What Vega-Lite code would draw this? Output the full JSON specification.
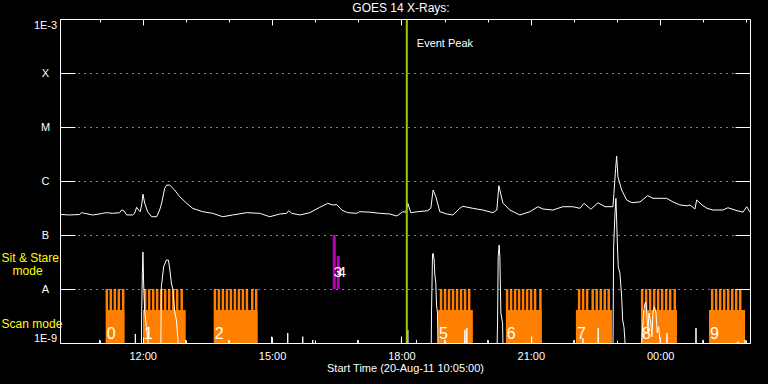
{
  "$schema": "https://vega.github.io/schema/vega-lite/v6.json",
  "width": 690,
  "height": 324,
  "autosize": "none",
  "padding": {"left": 60, "top": 19, "right": 18, "bottom": 41},
  "background": "black",
  "title": {"text": "GOES 14 X-Rays:", "fontSize": 12, "font": "Liberation Sans", "fontWeight": "normal", "color": "white", "offset": 3, "dx": -4, "frame": "group"},
  "datasets": {
    "scan": [
      {"seg": "0", "start": 11.142, "end": 11.582, "lo": 1e-9, "hi": 4.08e-9},
      {"seg": "1", "start": 12.007, "end": 12.998, "lo": 1e-9, "hi": 4.08e-9},
      {"seg": "2", "start": 13.647, "end": 14.668, "lo": 1e-9, "hi": 4.08e-9},
      {"seg": "5", "start": 18.851, "end": 19.657, "lo": 1e-9, "hi": 4.08e-9},
      {"seg": "6", "start": 20.422, "end": 21.258, "lo": 1e-9, "hi": 4.08e-9},
      {"seg": "7", "start": 22.046, "end": 22.882, "lo": 1e-9, "hi": 4.08e-9},
      {"seg": "8", "start": 23.555, "end": 24.39, "lo": 1e-9, "hi": 4.08e-9},
      {"seg": "9", "start": 25.132, "end": 25.968, "lo": 1e-9, "hi": 4.08e-9}
    ],
    "stripes": [
      {"h": 11.169}, {"h": 11.262}, {"h": 11.355}, {"h": 11.448}, {"h": 11.548},
      {"h": 12.058}, {"h": 12.151}, {"h": 12.244}, {"h": 12.336}, {"h": 12.429}, {"h": 12.522}, {"h": 12.615}, {"h": 12.708}, {"h": 12.8}, {"h": 12.905},
      {"h": 13.675}, {"h": 13.768}, {"h": 13.861}, {"h": 13.954}, {"h": 14.046}, {"h": 14.139}, {"h": 14.232}, {"h": 14.325}, {"h": 14.418}, {"h": 14.541}, {"h": 14.633},
      {"h": 18.919}, {"h": 19.012}, {"h": 19.104}, {"h": 19.197}, {"h": 19.29}, {"h": 19.383}, {"h": 19.476}, {"h": 19.571},
      {"h": 20.45}, {"h": 20.543}, {"h": 20.636}, {"h": 20.729}, {"h": 20.821}, {"h": 20.914}, {"h": 21.007}, {"h": 21.1}, {"h": 21.223},
      {"h": 22.121}, {"h": 22.213}, {"h": 22.306}, {"h": 22.436}, {"h": 22.529}, {"h": 22.622}, {"h": 22.715}, {"h": 22.807},
      {"h": 23.582}, {"h": 23.675}, {"h": 23.768}, {"h": 23.861}, {"h": 23.954}, {"h": 24.046}, {"h": 24.139}, {"h": 24.232}, {"h": 24.339},
      {"h": 25.206}, {"h": 25.299}, {"h": 25.392}, {"h": 25.485}, {"h": 25.578}, {"h": 25.671}, {"h": 25.763}, {"h": 25.856}
    ],
    "sitstare": [
      {"seg": "3", "start": 16.408, "end": 16.478, "lo": 1e-8, "hi": 1e-7},
      {"seg": "4", "start": 16.501, "end": 16.571, "lo": 1e-8, "hi": 4.08e-8}
    ],
    "long": [
      {"h": 10.083, "v": 2.40e-7}, {"h": 10.306, "v": 2.35e-7}, {"h": 10.538, "v": 2.40e-7}, {"h": 10.585, "v": 2.59e-7}, {"h": 10.654, "v": 2.52e-7}, {"h": 10.84, "v": 2.35e-7}, {"h": 11.002, "v": 2.45e-7}, {"h": 11.072, "v": 2.52e-7}, {"h": 11.165, "v": 2.59e-7}, {"h": 11.304, "v": 2.52e-7}, {"h": 11.466, "v": 2.59e-7}, {"h": 11.513, "v": 2.90e-7}, {"h": 11.559, "v": 2.85e-7}, {"h": 11.629, "v": 2.35e-7}, {"h": 11.768, "v": 2.35e-7}, {"h": 11.814, "v": 2.52e-7}, {"h": 11.861, "v": 3.26e-7}, {"h": 11.907, "v": 2.90e-7}, {"h": 11.942, "v": 2.70e-7}, {"h": 11.977, "v": 3.60e-7}, {"h": 12.007, "v": 5.70e-7}, {"h": 12.046, "v": 3.90e-7}, {"h": 12.116, "v": 2.70e-7}, {"h": 12.209, "v": 2.18e-7}, {"h": 12.325, "v": 2.18e-7}, {"h": 12.394, "v": 2.90e-7}, {"h": 12.441, "v": 3.90e-7}, {"h": 12.51, "v": 7.30e-7}, {"h": 12.557, "v": 8.40e-7}, {"h": 12.626, "v": 8.40e-7}, {"h": 12.742, "v": 6.80e-7}, {"h": 12.858, "v": 5.12e-7}, {"h": 13.021, "v": 3.86e-7}, {"h": 13.16, "v": 3.12e-7}, {"h": 13.392, "v": 2.70e-7}, {"h": 13.624, "v": 2.52e-7}, {"h": 13.856, "v": 2.18e-7}, {"h": 14.088, "v": 2.35e-7}, {"h": 14.413, "v": 2.59e-7}, {"h": 14.715, "v": 2.52e-7}, {"h": 14.947, "v": 2.18e-7}, {"h": 15.179, "v": 2.45e-7}, {"h": 15.341, "v": 2.52e-7}, {"h": 15.387, "v": 2.82e-7}, {"h": 15.457, "v": 2.52e-7}, {"h": 15.643, "v": 2.35e-7}, {"h": 15.875, "v": 2.59e-7}, {"h": 16.107, "v": 3.26e-7}, {"h": 16.292, "v": 3.86e-7}, {"h": 16.408, "v": 3.60e-7}, {"h": 16.501, "v": 3.65e-7}, {"h": 16.617, "v": 2.90e-7}, {"h": 16.756, "v": 2.59e-7}, {"h": 16.965, "v": 2.52e-7}, {"h": 17.035, "v": 2.70e-7}, {"h": 17.267, "v": 2.65e-7}, {"h": 17.499, "v": 2.52e-7}, {"h": 17.731, "v": 2.45e-7}, {"h": 17.893, "v": 2.25e-7}, {"h": 18.032, "v": 2.70e-7}, {"h": 18.102, "v": 2.65e-7}, {"h": 18.148, "v": 3.86e-7}, {"h": 18.218, "v": 2.59e-7}, {"h": 18.381, "v": 2.70e-7}, {"h": 18.613, "v": 2.82e-7}, {"h": 18.682, "v": 3.12e-7}, {"h": 18.735, "v": 6.80e-7}, {"h": 18.798, "v": 5.12e-7}, {"h": 18.891, "v": 2.70e-7}, {"h": 19.053, "v": 2.45e-7}, {"h": 19.193, "v": 2.35e-7}, {"h": 19.355, "v": 3.12e-7}, {"h": 19.425, "v": 3.40e-7}, {"h": 19.657, "v": 3.12e-7}, {"h": 19.889, "v": 2.90e-7}, {"h": 20.121, "v": 2.59e-7}, {"h": 20.213, "v": 2.90e-7}, {"h": 20.26, "v": 8.20e-7}, {"h": 20.353, "v": 3.90e-7}, {"h": 20.515, "v": 2.90e-7}, {"h": 20.747, "v": 2.35e-7}, {"h": 20.979, "v": 2.70e-7}, {"h": 21.165, "v": 3.34e-7}, {"h": 21.281, "v": 3.03e-7}, {"h": 21.513, "v": 2.90e-7}, {"h": 21.745, "v": 3.34e-7}, {"h": 21.977, "v": 3.34e-7}, {"h": 22.14, "v": 3.12e-7}, {"h": 22.233, "v": 3.86e-7}, {"h": 22.394, "v": 3.00e-7}, {"h": 22.557, "v": 3.96e-7}, {"h": 22.719, "v": 3.34e-7}, {"h": 22.905, "v": 3.34e-7}, {"h": 22.928, "v": 5.90e-7}, {"h": 22.968, "v": 1.72e-6}, {"h": 22.991, "v": 2.90e-6}, {"h": 23.021, "v": 1.20e-6}, {"h": 23.107, "v": 6.80e-7}, {"h": 23.223, "v": 4.45e-7}, {"h": 23.346, "v": 3.96e-7}, {"h": 23.531, "v": 4.10e-7}, {"h": 23.71, "v": 5.35e-7}, {"h": 23.833, "v": 4.78e-7}, {"h": 24.151, "v": 4.78e-7}, {"h": 24.297, "v": 4.10e-7}, {"h": 24.459, "v": 3.60e-7}, {"h": 24.622, "v": 3.47e-7}, {"h": 24.691, "v": 3.60e-7}, {"h": 24.807, "v": 3.03e-7}, {"h": 24.847, "v": 4.45e-7}, {"h": 24.97, "v": 3.60e-7}, {"h": 25.086, "v": 3.12e-7}, {"h": 25.225, "v": 2.90e-7}, {"h": 25.457, "v": 2.90e-7}, {"h": 25.573, "v": 3.20e-7}, {"h": 25.782, "v": 2.82e-7}, {"h": 25.921, "v": 2.65e-7}, {"h": 26.007, "v": 3.34e-7}, {"h": 26.083, "v": 2.65e-7}
    ],
    "short": [
      {"h": 10.083, "v": 5e-10}, {"h": 10.988, "v": 5e-10}, {"h": 11.0, "v": 1.14e-9}, {"h": 11.012, "v": 5e-10},
      {"h": 11.819, "v": 5e-10}, {"h": 11.831, "v": 1.47e-9}, {"h": 11.843, "v": 5e-10},
      {"h": 11.97, "v": 5e-10}, {"h": 11.977, "v": 3.8e-9}, {"h": 11.993, "v": 1.95e-8}, {"h": 12.007, "v": 4.84e-8}, {"h": 12.023, "v": 1.25e-8}, {"h": 12.046, "v": 4.08e-9}, {"h": 12.086, "v": 1.96e-9}, {"h": 12.123, "v": 1.14e-9}, {"h": 12.139, "v": 5e-10},
      {"h": 12.418, "v": 5e-10}, {"h": 12.434, "v": 1.10e-8}, {"h": 12.487, "v": 2.59e-8}, {"h": 12.55, "v": 3.44e-8}, {"h": 12.596, "v": 3.44e-8}, {"h": 12.626, "v": 2.45e-8}, {"h": 12.666, "v": 1.29e-8}, {"h": 12.703, "v": 9.6e-9}, {"h": 12.742, "v": 3.8e-9}, {"h": 12.782, "v": 2.67e-9}, {"h": 12.819, "v": 1.14e-9}, {"h": 12.835, "v": 5e-10},
      {"h": 12.986, "v": 5e-10}, {"h": 12.998, "v": 1.14e-9}, {"h": 13.01, "v": 5e-10},
      {"h": 13.983, "v": 5e-10}, {"h": 13.995, "v": 1.14e-9}, {"h": 14.007, "v": 5e-10},
      {"h": 14.981, "v": 5e-10}, {"h": 14.993, "v": 1.31e-9}, {"h": 15.005, "v": 5e-10},
      {"h": 15.352, "v": 5e-10}, {"h": 15.364, "v": 1.53e-9}, {"h": 15.376, "v": 5e-10},
      {"h": 15.7, "v": 5e-10}, {"h": 15.712, "v": 1.31e-9}, {"h": 15.724, "v": 5e-10},
      {"h": 15.932, "v": 5e-10}, {"h": 15.944, "v": 1.14e-9}, {"h": 15.956, "v": 5e-10},
      {"h": 16.976, "v": 5e-10}, {"h": 16.988, "v": 1.14e-9}, {"h": 17.0, "v": 5e-10},
      {"h": 17.99, "v": 5e-10}, {"h": 18.002, "v": 1.31e-9}, {"h": 18.014, "v": 5e-10},
      {"h": 18.136, "v": 5e-10}, {"h": 18.148, "v": 1.74e-9}, {"h": 18.16, "v": 5e-10},
      {"h": 18.338, "v": 5e-10}, {"h": 18.35, "v": 1.14e-9}, {"h": 18.362, "v": 5e-10},
      {"h": 18.689, "v": 5e-10}, {"h": 18.698, "v": 3.6e-9}, {"h": 18.721, "v": 4.26e-8}, {"h": 18.735, "v": 4.58e-8}, {"h": 18.759, "v": 3.44e-8}, {"h": 18.775, "v": 1.82e-8}, {"h": 18.798, "v": 1.29e-8}, {"h": 18.814, "v": 5.06e-9}, {"h": 18.837, "v": 3.6e-9}, {"h": 18.851, "v": 5e-10},
      {"h": 18.995, "v": 5e-10}, {"h": 19.007, "v": 1.14e-9}, {"h": 19.019, "v": 5e-10},
      {"h": 19.46, "v": 5e-10}, {"h": 19.471, "v": 1.74e-9}, {"h": 19.49, "v": 5e-10}, {"h": 19.505, "v": 5e-10}, {"h": 19.517, "v": 1.9e-9}, {"h": 19.53, "v": 5e-10},
      {"h": 19.993, "v": 5e-10}, {"h": 20.005, "v": 1.14e-9}, {"h": 20.017, "v": 5e-10},
      {"h": 20.213, "v": 5e-10}, {"h": 20.23, "v": 2.35e-9}, {"h": 20.244, "v": 3.96e-8}, {"h": 20.267, "v": 6.53e-8}, {"h": 20.283, "v": 3.96e-8}, {"h": 20.306, "v": 3.6e-9}, {"h": 20.346, "v": 2.35e-9}, {"h": 20.36, "v": 5e-10},
      {"h": 21.007, "v": 5e-10}, {"h": 21.019, "v": 1.31e-9}, {"h": 21.031, "v": 5e-10},
      {"h": 21.988, "v": 5e-10}, {"h": 22.0, "v": 1.14e-9}, {"h": 22.012, "v": 5e-10},
      {"h": 22.197, "v": 5e-10}, {"h": 22.209, "v": 1.22e-9}, {"h": 22.221, "v": 5e-10},
      {"h": 22.55, "v": 5e-10}, {"h": 22.564, "v": 1.9e-9}, {"h": 22.58, "v": 5e-10},
      {"h": 22.905, "v": 5e-10}, {"h": 22.921, "v": 6.07e-8}, {"h": 22.951, "v": 2.35e-7}, {"h": 22.974, "v": 4.78e-7}, {"h": 22.991, "v": 1.9e-7}, {"h": 23.005, "v": 8.07e-8}, {"h": 23.028, "v": 2.59e-8}, {"h": 23.067, "v": 1.95e-8}, {"h": 23.107, "v": 7.2e-9}, {"h": 23.13, "v": 2.67e-9}, {"h": 23.16, "v": 2.0e-9}, {"h": 23.183, "v": 1.14e-9}, {"h": 23.195, "v": 5e-10},
      {"h": 23.555, "v": 5e-10}, {"h": 23.594, "v": 2.0e-9}, {"h": 23.624, "v": 4.08e-9}, {"h": 23.647, "v": 5.43e-9}, {"h": 23.671, "v": 5.8e-9}, {"h": 23.694, "v": 3.07e-9}, {"h": 23.717, "v": 1.62e-9}, {"h": 23.74, "v": 3.6e-9}, {"h": 23.779, "v": 2.48e-9}, {"h": 23.81, "v": 1.31e-9}, {"h": 23.833, "v": 3.6e-9}, {"h": 23.863, "v": 4.7e-9}, {"h": 23.903, "v": 3.6e-9}, {"h": 23.933, "v": 1.53e-9}, {"h": 23.965, "v": 2.0e-9}, {"h": 23.995, "v": 1.14e-9}, {"h": 24.019, "v": 5e-10},
      {"h": 24.146, "v": 5e-10}, {"h": 24.158, "v": 1.53e-9}, {"h": 24.17, "v": 5e-10},
      {"h": 24.819, "v": 5e-10}, {"h": 24.831, "v": 1.9e-9}, {"h": 24.843, "v": 5e-10},
      {"h": 24.981, "v": 5e-10}, {"h": 24.993, "v": 1.14e-9}, {"h": 25.005, "v": 5e-10},
      {"h": 25.793, "v": 5e-10}, {"h": 25.805, "v": 1.07e-9}, {"h": 25.817, "v": 5e-10},
      {"h": 25.956, "v": 5e-10}, {"h": 25.968, "v": 1.14e-9}, {"h": 25.98, "v": 5e-10},
      {"h": 26.083, "v": 5e-10}
    ],
    "event": [{"h": 18.125, "label": "Event Peak"}],
    "modes": [
      {"text": "Sit & Stare", "h": 8.729, "v": 3.16e-8},
      {"text": "mode", "h": 8.984, "v": 1.82e-8},
      {"text": "Scan mode", "h": 8.729, "v": 1.9e-9}
    ]
  },
  "layer": [
    {
      "data": {"name": "scan"},
      "mark": {"type": "rect", "color": "#ff8000"},
      "encoding": {
        "x": {"field": "start", "type": "quantitative",
          "scale": {"domain": [10.0833, 26.0833], "nice": false, "zero": false},
          "axis": {"orient": "bottom", "values": [11, 12, 13, 14, 15, 16, 17, 18, 19, 20, 21, 22, 23, 24, 25, 26],
            "labelExpr": "datum.value % 3 == 0 ? (((datum.value % 24) < 10 ? '0' : '') + (datum.value % 24) + ':00') : ''",
            "tickSize": {"condition": {"test": "datum.value % 3 == 0", "value": -6}, "value": -3},
            "labelPadding": 13, "labelOverlap": false, "labelFlush": false, "grid": false,
            "title": "Start Time (20-Aug-11 10:05:00)", "titlePadding": -2, "zindex": 1}},
        "x2": {"field": "end"},
        "y": {"field": "lo", "type": "quantitative",
          "scale": {"type": "log", "domain": [1e-9, 1e-3], "nice": false},
          "axis": {"orient": "left", "values": [1e-9, 1e-8, 1e-7, 1e-6, 1e-5, 1e-4, 1e-3],
            "labelExpr": "['1E-9','A','B','C','M','X','1E-3'][round(log(datum.value)/LN10)+9]",
            "tickSize": -15, "labelPadding": 30, "labelAlign": "center", "labelFlush": true, "labelOverlap": false,
            "grid": true, "gridColor": "white", "gridDash": [1, 5], "gridWidth": 1, "title": null, "zindex": 1}},
        "y2": {"field": "hi"}
      }
    },
    {
      "data": {"name": "stripes"},
      "mark": {"type": "rule", "color": "#ff8000", "strokeWidth": 2.5},
      "encoding": {
        "x": {"field": "h", "type": "quantitative", "axis": null},
        "y": {"datum": 4.08e-9, "type": "quantitative", "axis": null},
        "y2": {"datum": 1e-8}
      }
    },
    {
      "data": {"name": "sitstare"},
      "mark": {"type": "rect", "color": "#bb00bb"},
      "encoding": {
        "x": {"field": "start", "type": "quantitative",
          "axis": {"orient": "top", "values": [11, 12, 13, 14, 15, 16, 17, 18, 19, 20, 21, 22, 23, 24, 25, 26], "labels": false,
            "tickSize": {"condition": {"test": "datum.value % 3 == 0", "value": -6}, "value": -3}, "grid": false, "title": null, "zindex": 1}},
        "x2": {"field": "end"},
        "y": {"field": "lo", "type": "quantitative",
          "axis": {"orient": "right", "values": [1e-9, 1e-8, 1e-7, 1e-6, 1e-5, 1e-4, 1e-3], "labels": false, "tickSize": -15, "grid": false, "title": null, "zindex": 1}},
        "y2": {"field": "hi"}
      }
    },
    {
      "data": {"name": "scan"},
      "mark": {"type": "text", "color": "white", "fontSize": 16, "align": "left", "baseline": "alphabetic", "dx": 1},
      "encoding": {
        "x": {"field": "start", "type": "quantitative", "axis": null},
        "y": {"datum": 1.186e-9, "type": "quantitative", "axis": null},
        "text": {"field": "seg"}
      }
    },
    {
      "data": {"name": "sitstare"},
      "mark": {"type": "text", "color": "white", "fontSize": 15, "align": "left", "baseline": "alphabetic", "dx": 1},
      "encoding": {
        "x": {"field": "start", "type": "quantitative", "axis": null},
        "y": {"datum": 1.67e-8, "type": "quantitative", "axis": null},
        "text": {"field": "seg"}
      }
    },
    {
      "data": {"name": "long"},
      "mark": {"type": "line", "color": "white", "strokeWidth": 1, "clip": true},
      "encoding": {
        "x": {"field": "h", "type": "quantitative", "axis": null},
        "y": {"field": "v", "type": "quantitative", "axis": null}
      }
    },
    {
      "data": {"name": "short"},
      "mark": {"type": "line", "color": "white", "strokeWidth": 1, "clip": true},
      "encoding": {
        "x": {"field": "h", "type": "quantitative", "axis": null},
        "y": {"field": "v", "type": "quantitative", "axis": null}
      }
    },
    {
      "data": {"name": "event"},
      "mark": {"type": "rule", "color": "#9acd00", "strokeWidth": 2},
      "encoding": {
        "x": {"field": "h", "type": "quantitative", "axis": null}
      }
    },
    {
      "data": {"name": "event"},
      "mark": {"type": "text", "color": "white", "fontSize": 11, "align": "left", "baseline": "alphabetic", "dx": 10},
      "encoding": {
        "x": {"field": "h", "type": "quantitative", "axis": null},
        "y": {"datum": 3.03e-4, "type": "quantitative", "axis": null},
        "text": {"field": "label"}
      }
    },
    {
      "data": {"name": "modes"},
      "mark": {"type": "text", "color": "#ffff00", "fontSize": 12, "align": "left", "baseline": "alphabetic"},
      "encoding": {
        "x": {"field": "h", "type": "quantitative", "axis": null},
        "y": {"field": "v", "type": "quantitative", "axis": null},
        "text": {"field": "text"}
      }
    }
  ],
  "resolve": {"axis": {"x": "independent", "y": "independent"}},
  "config": {
    "view": {"stroke": null},
    "axis": {"domainColor": "white", "tickColor": "white", "labelColor": "white", "titleColor": "white",
      "labelFont": "Liberation Sans", "titleFont": "Liberation Sans", "labelFontSize": 11, "titleFontSize": 11, "titleFontWeight": "normal", "domainWidth": 1, "tickWidth": 1},
    "text": {"font": "Liberation Sans"}
  }
}
